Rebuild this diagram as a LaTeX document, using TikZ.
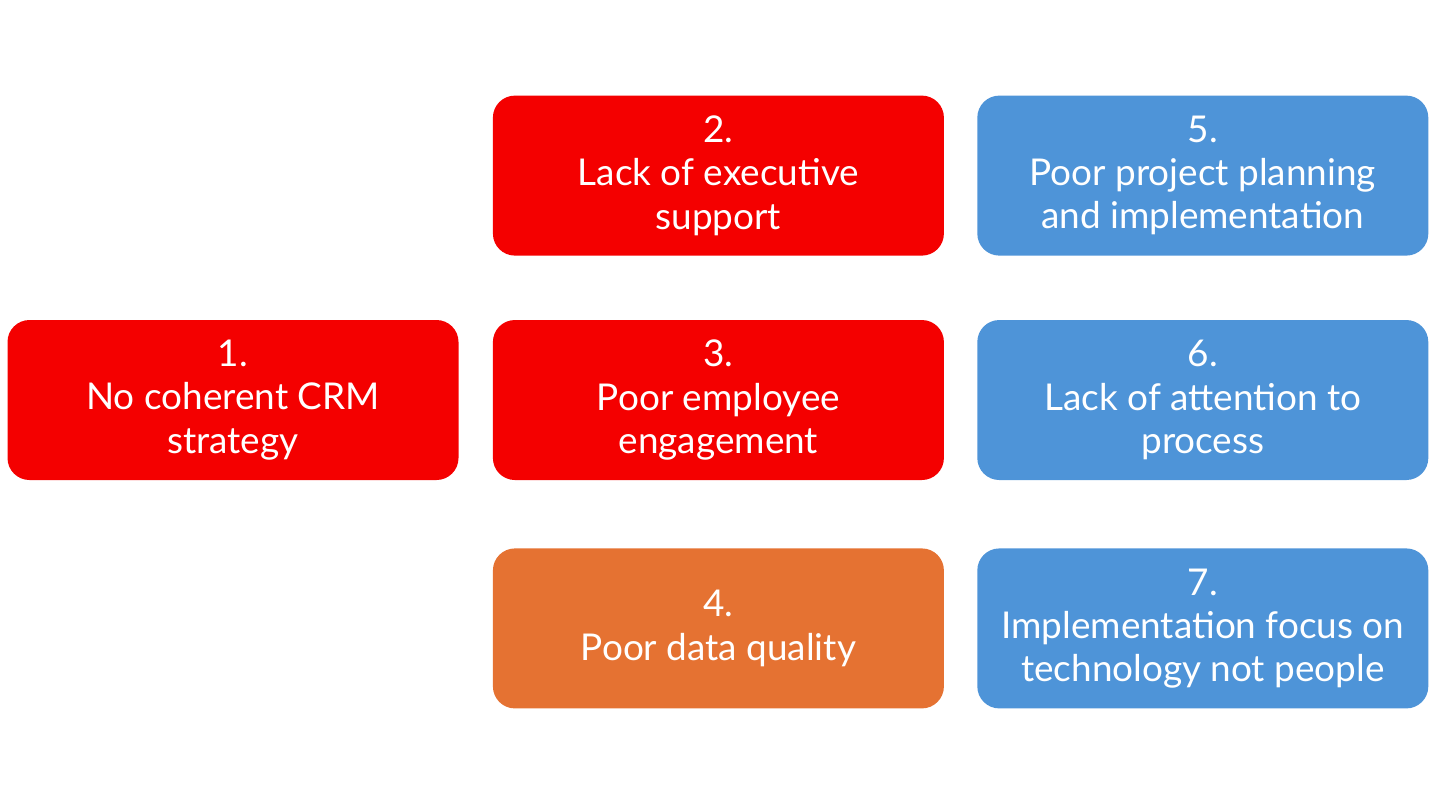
\documentclass[tikz,border=0pt]{standalone}
\usepackage{fontspec}
\setmainfont{Lato}
\usetikzlibrary{positioning}
\definecolor{redbox}{HTML}{F40000}
\definecolor{orangebox}{HTML}{E57232}
\definecolor{bluebox}{HTML}{4E94D8}
\tikzset{
  box/.style      = { rectangle, minimum width=4.51cm, minimum height=1.6cm, rounded corners=2.2mm },
  label/.style    = { box, align=center, text=white, font=\fontsize{10.5}{12.3}\selectfont },
  critical/.style = { label, fill=redbox },
  major/.style    = { label, fill=orangebox },
  minor/.style    = { label, fill=bluebox },
}
\begin{document}
\begin{tikzpicture}[node distance=0.33cm]
  \useasboundingbox (0,0) rectangle (14.4,-8.1);

  \node (strategy)   [critical] at (2.33,-4.00)            {1.\\No coherent CRM\\strategy};
  \node (engage)     [critical,right=of strategy]          {3.\\Poor employee\\engagement};
  \node (exec)       [critical,above=0.63cm of engage]     {2.\\Lack of executive\\support};
  \node (data)       [major,below=0.67cm of engage]        {4.\\Poor data quality};
  \node (process)    [minor,right=0.32cm of engage]        {6.\\Lack of attention to\\process};
  \node (planning)   [minor,above=0.63cm of process]       {5.\\Poor project planning\\and implementation};
  \node (technology) [minor,below=0.67cm of process]       {7.\\Implementation focus on\\technology not people};

\end{tikzpicture}
\end{document}
